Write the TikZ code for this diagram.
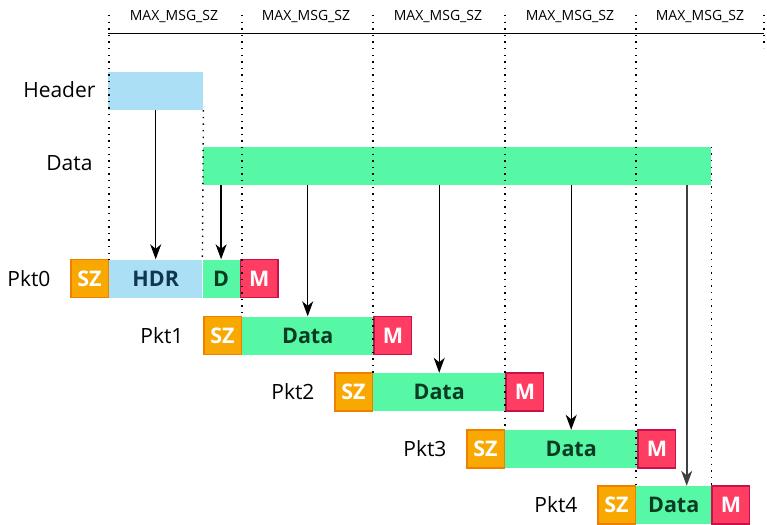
\documentclass[tikz,border=0pt]{standalone}
\usepackage{fontspec}
\setmainfont{Open Sans}
\usepackage{tikz}
\usetikzlibrary{positioning, arrows.meta}

\definecolor{hdrblue}{HTML}{AADFF5}
\definecolor{datgreen}{HTML}{56F8A5}
\definecolor{szfill}{HTML}{F8A800}
\definecolor{szline}{HTML}{EE7F00}
\definecolor{mfill}{HTML}{FF3D63}
\definecolor{mline}{HTML}{C8104B}
\definecolor{hdrtext}{HTML}{0F3750}
\definecolor{dattext}{HTML}{0B3B22}

\tikzset{
  bar/.style={minimum height=38, inner sep=0, anchor=west},
  seg/.style={bar, font=\fontsize{21.5}{24}\selectfont\bfseries},
  szbox/.style={seg, minimum width=37.5, fill=szfill, draw=szline, line width=1.5pt, text=white},
  mbox/.style={seg, minimum width=37.5, fill=mfill, draw=mline, line width=1.5pt, text=white},
  hdrbox/.style={seg, fill=hdrblue, text=hdrtext},
  datbox/.style={seg, fill=datgreen, text=dattext},
  lbl/.style={font=\fontsize{21}{25}\selectfont},
  guide/.style={line width=1.4pt, dash pattern=on 1.4pt off 5.2pt},
}

\begin{document}
\begin{tikzpicture}[x=1pt, y=-1pt, >={Stealth[length=15pt, width=11pt, inset=4.5pt]}]
\useasboundingbox (0,0) rectangle (767,524);

% source buffers
\node[bar, fill=hdrblue, minimum width=95] (header) at (108,91) {};
\node[bar, fill=datgreen, minimum width=508] (data) at (203,166) {};
\node[lbl, anchor=east] (headerlbl) at (99,90) {Header};
\node[lbl, anchor=east] (datalbl) at (96,163) {Data};

% packets
\node[szbox] (sz0) at (70,278.5) {SZ};
\node[hdrbox, minimum width=93, right=0pt of sz0] (hdr0) {HDR};
\node[datbox, minimum width=37, right=0pt of hdr0] (d0) {D};
\node[mbox, right=0pt of d0] (m0) {M};
\node[lbl, left=16pt of sz0] (pkt0) {Pkt0};

\node[szbox] (sz1) at (203,335.5) {SZ};
\node[datbox, minimum width=131, right=0pt of sz1] (dat1) {Data};
\node[mbox, right=0pt of dat1] (m1) {M};
\node[lbl, left=16pt of sz1] (pkt1) {Pkt1};

\node[szbox] (sz2) at (334,392) {SZ};
\node[datbox, minimum width=132, right=0pt of sz2] (dat2) {Data};
\node[mbox, right=0pt of dat2] (m2) {M};
\node[lbl, left=16pt of sz2] (pkt2) {Pkt2};

\node[szbox] (sz3) at (466,449) {SZ};
\node[datbox, minimum width=132, right=0pt of sz3] (dat3) {Data};
\node[mbox, right=0pt of dat3] (m3) {M};
\node[lbl, left=16pt of sz3] (pkt3) {Pkt3};

\node[szbox] (sz4) at (597,505) {SZ};
\node[datbox, minimum width=75, right=0pt of sz4] (dat4) {Data};
\node[mbox, right=0pt of dat4] (m4) {M};
\node[lbl, left=16pt of sz4] (pkt4) {Pkt4};

% size marks
\coordinate (top) at (0,15);
\foreach \x [count=\i] in {174,306,438,570,700}
  \node[font=\fontsize{14}{16}\selectfont] (msz\i) at (\x,17) {MAX\_MSG\_SZ};
\draw[line width=1pt] (108,34) -- (764,34);
\foreach \n in {hdr0, dat1, dat2, dat3, dat4}
  \draw[guide] (\n.north west |- top) -- (\n.north west);
\draw[guide] (764,15) -- (764,48);
\draw[guide] (header.south east) -- (d0.north west);
\draw[guide] (data.north east) -- (m4.north west);

% copies
\draw[->, line width=1.3pt] (hdr0.north |- header.south) -- (hdr0.north);
\draw[->, line width=1.3pt] (d0.north |- data.south) -- (d0.north);
\foreach \n in {dat1, dat2, dat3}
  \draw[->, line width=1.3pt] (\n.north |- data.south) -- (\n.north);
\draw[->, line width=1.6pt, black!75] ([xshift=13pt]dat4.north |- data.south) -- ([xshift=13pt]dat4.north);
\end{tikzpicture}
\end{document}
